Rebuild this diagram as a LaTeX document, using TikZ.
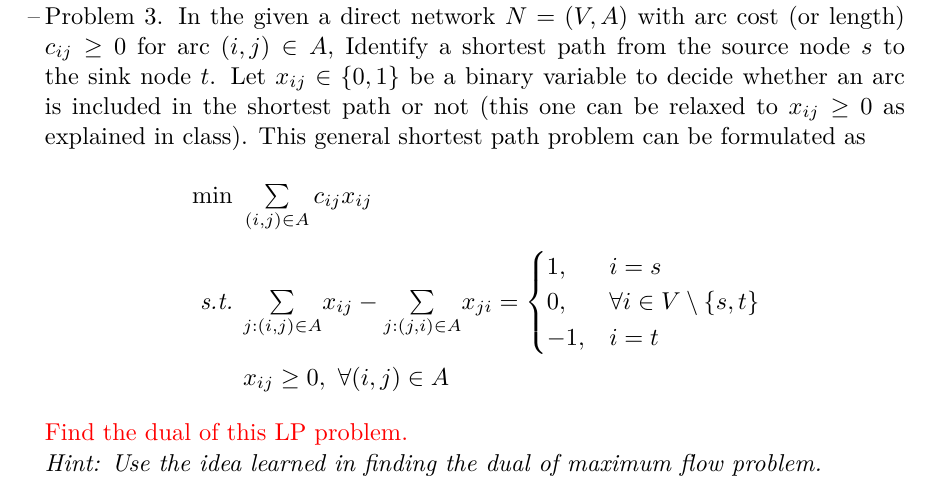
\documentclass[tikz,border=0pt]{standalone}
\usepackage{amsmath,amssymb}
\begin{document}
\begin{tikzpicture}[x=0.41pt,y=-0.41pt,
  txt/.style={anchor=base west,inner sep=0pt,outer sep=0pt},
  pline/.style={txt}]
\useasboundingbox (0,0) rectangle (937,493);
\node[txt] (dash) at (28,24) {--};
\node[pline] (l1) at (45,24) {\makebox[352.6pt][s]{Problem 3. In the given a direct network $N=(V,A)$ with arc cost (or length)}};
\node[pline] (l2) at (45,54) {\makebox[352.6pt][s]{$c_{ij}\ge 0$ for arc $(i,j)\in A$, Identify a shortest path from the source node $s$ to}};
\node[pline] (l3) at (45,84) {\makebox[352.6pt][s]{the sink node $t$. Let $x_{ij}\in\{0,1\}$ be a binary variable to decide whether an arc}};
\node[pline] (l4) at (45,114) {\makebox[352.6pt][s]{is included in the shortest path or not (this one can be relaxed to $x_{ij}\ge 0$ as}};
\node[pline] (l5) at (45,144) {explained in class). This general shortest path problem can be formulated as};
\node[txt] (obj) at (192,203) {$\min\ \sum\limits_{(i,j)\in A} c_{ij}x_{ij}$};
\node[txt] (st) at (200,309) {\textit{s.t.}};
\node[txt] (con) at (243,309) {$\sum\limits_{j:(i,j)\in A}\! x_{ij} - \sum\limits_{j:(j,i)\in A}\! x_{ji} = \begin{cases}1, & i=s\\ 0, & \forall i\in V\setminus\{s,t\}\\ -1, & i=t\end{cases}$};
\node[txt] (nn) at (243,385) {$x_{ij}\ge 0,\ \forall (i,j)\in A$};
\node[txt,text=red] (find) at (45,440) {Find the dual of this LP problem.};
\node[txt] (hint) at (45,471) {\textit{Hint: Use the idea learned in finding the dual of maximum flow problem.}};
\end{tikzpicture}
\end{document}
